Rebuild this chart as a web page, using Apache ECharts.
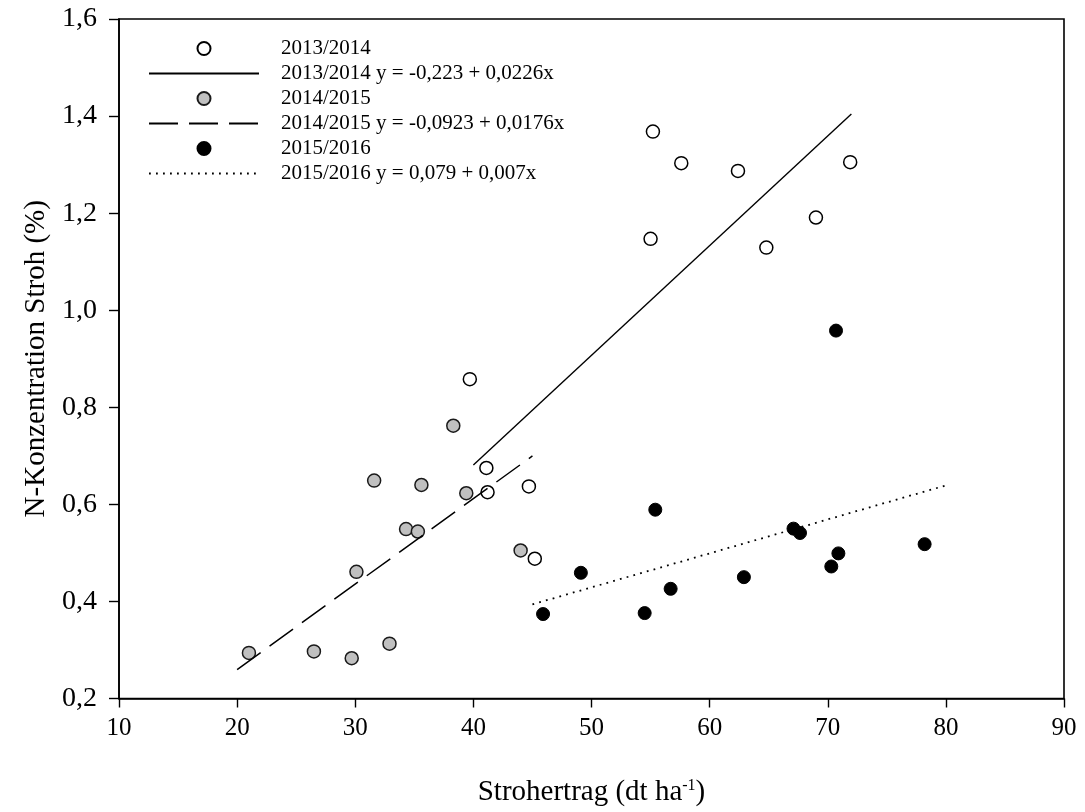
<!DOCTYPE html>
<html>
<head>
<meta charset="utf-8">
<script src="https://cdn.jsdelivr.net/npm/echarts@6/dist/echarts.min.js"></script>
<style>
html,body{margin:0;padding:0;background:#fff;}
#chart{width:1085px;height:812px;}
</style>
</head>
<body>
<div id="chart"></div>
<script>
// ---- data ----
const points2013 = [[39.7,0.858],[41.1,0.675],[41.2,0.625],[44.7,0.637],[45.2,0.488],[55.0,1.147],[55.2,1.368],[57.6,1.303],[62.4,1.287],[64.8,1.129],[69.0,1.191],[71.9,1.305]];
const points2014 = [[21.0,0.294],[26.5,0.297],[29.7,0.283],[30.1,0.461],[31.6,0.649],[32.9,0.313],[34.3,0.549],[35.3,0.544],[35.6,0.640],[38.3,0.762],[39.4,0.623],[44.0,0.505]];
const points2015 = [[45.9,0.374],[49.1,0.459],[54.5,0.376],[55.4,0.589],[56.7,0.426],[62.9,0.450],[67.1,0.550],[67.65,0.541],[70.3,0.472],[70.7,0.958],[70.9,0.499],[78.2,0.518]];
// regression fits: [intercept, slope] and x-range
const fitCoef2013 = [-0.223, 0.0226];
const fitRange2013 = [40, 72];
const fitCoef2014 = [-0.0923, 0.0176];
const fitRange2014 = [20, 45];
const fitCoef2015 = [0.079, 0.007];
const fitRange2015 = [45, 80];
const seriesNames = ['2013/2014','2013/2014 y = -0,223 + 0,0226x','2014/2015','2014/2015 y = -0,0923 + 0,0176x','2015/2016','2015/2016 y = 0,079 + 0,007x'];
const xTicks = [10,20,30,40,50,60,70,80,90];
const yTicks = ['0,2','0,4','0,6','0,8','1,0','1,2','1,4','1,6'];

function fitLine(coef, range){
  return range.map(x => [x, coef[0] + coef[1]*x]);
}

const FONT = '"Liberation Serif", "Times New Roman", serif';
const chart = echarts.init(document.getElementById('chart'), null, {renderer:'canvas'});
const markerSize = 13;
const legendData = seriesNames.map((n, i) => i % 2 === 1
  ? {name:n, itemStyle:{opacity:0, color:'rgba(0,0,0,0)', borderWidth:0}}
  : {name:n});
chart.setOption({
  animation:false,
  backgroundColor:'#fff',
  grid:{left:119, right:21, top:19, bottom:113, show:true, borderColor:'#000', borderWidth:1.6, backgroundColor:'transparent'},
  legend:{
    orient:'vertical', left:143, top:31,
    itemWidth:110, itemHeight:13, itemGap:0,
    selectedMode:false,
    textStyle:{fontFamily:FONT, fontSize:21, color:'#000', lineHeight:25, padding:[0,0,0,17]},
    data:legendData
  },
  xAxis:{
    type:'value', min:10, max:90, interval:10,
    name:'Strohertrag (dt ha{sup|-1})',
    nameLocation:'middle', nameGap:79,
    nameTextStyle:{fontFamily:FONT, fontSize:29, color:'#000', rich:{sup:{fontFamily:FONT, fontSize:16, color:'#000', verticalAlign:'top', padding:[0,0,14,0]}}},
    axisLine:{show:true, onZero:false, lineStyle:{color:'#000', width:1.6}},
    axisTick:{show:true, inside:false, length:9, lineStyle:{color:'#000', width:1.4}},
    axisLabel:{fontFamily:FONT, fontSize:25, color:'#000', margin:17, formatter:v => String(v)},
    splitLine:{show:false}
  },
  yAxis:{
    type:'value', min:0.2, max:1.6, interval:0.2,
    name:'N-Konzentration Stroh (%)',
    nameLocation:'middle', nameGap:66,
    nameTextStyle:{fontFamily:FONT, fontSize:29, color:'#000'},
    axisLine:{show:true, onZero:false, lineStyle:{color:'#000', width:1.6}},
    axisTick:{show:true, inside:false, length:10, lineStyle:{color:'#000', width:1.4}},
    axisLabel:{fontFamily:FONT, fontSize:28, color:'#000', margin:22,
      formatter:v => { const i = Math.round((v-0.2)/0.2); return yTicks[i] !== undefined ? yTicks[i] : v.toFixed(1).replace('.',','); }},
    splitLine:{show:false}
  },
  series:[
    {name:seriesNames[0], type:'scatter', data:points2013, symbol:'circle', symbolSize:markerSize, z:3,
      itemStyle:{color:'#fff', borderColor:'#000', borderWidth:1.5, opacity:1}},
    {name:seriesNames[1], type:'line', data:fitLine(fitCoef2013, fitRange2013), symbol:'none', showSymbol:false, z:4,
      lineStyle:{color:'#000', width:1.4, type:'solid'}, itemStyle:{color:'#000'}},
    {name:seriesNames[2], type:'scatter', data:points2014, symbol:'circle', symbolSize:markerSize, z:3,
      itemStyle:{color:'#c0c0c0', borderColor:'#1a1a1a', borderWidth:1.5, opacity:1}},
    {name:seriesNames[3], type:'line', data:fitLine(fitCoef2014, fitRange2014), symbol:'none', showSymbol:false, z:4,
      lineStyle:{color:'#000', width:1.5, type:[29,11]}, itemStyle:{color:'#000'}},
    {name:seriesNames[4], type:'scatter', data:points2015, symbol:'circle', symbolSize:markerSize, z:3,
      itemStyle:{color:'#000', borderColor:'#000', borderWidth:1, opacity:1}},
    {name:seriesNames[5], type:'line', data:fitLine(fitCoef2015, fitRange2015), symbol:'none', showSymbol:false, z:4,
      lineStyle:{color:'#000', width:1.8, type:[1.8,5.2]}, itemStyle:{color:'#000'}}
  ]
});
</script>
</body>
</html>
